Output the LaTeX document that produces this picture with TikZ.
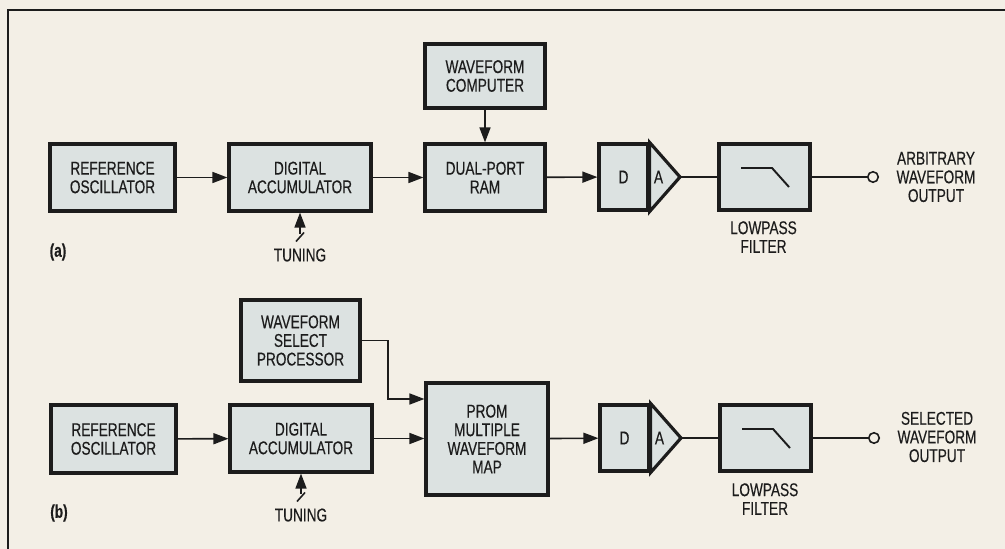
\documentclass[tikz,border=0pt]{standalone}
\usepackage{fontspec}
\setmainfont[FakeStretch=0.74, FakeBold=0.35]{Liberation Sans}
\usetikzlibrary{arrows.meta, calc}
\definecolor{paper}{HTML}{F3EFE6}
\definecolor{boxfill}{HTML}{DCE2E1}
\definecolor{ink}{HTML}{1C1C1C}
\tikzset{
  blk/.style={draw=ink, line width=1.8pt, fill=boxfill, align=center,
    inner sep=0pt, font=\fontsize{10.5}{10.6}\selectfont, text=ink},
  lbl/.style={align=center, inner sep=0pt, font=\fontsize{10.5}{10.6}\selectfont, text=ink},
  wire/.style={draw=ink, line width=0.9pt},
  sig/.style={wire, -{Triangle[length=3mm,width=2.2mm]}},
  outpt/.style={circle, draw=ink, line width=0.9pt, fill=paper, minimum size=0.21cm, inner sep=0pt}
}

\begin{document}
\begin{tikzpicture}[>=latex]
  \useasboundingbox[fill=paper] (0,0) rectangle (20.1,-10.98);
  % Frame
  \draw[ink, line width=0.8pt] (20.1,-0.2) -- (0.16,-0.2) -- (0.16,-10.98);

  % ---------- (a) ----------
  \node[blk, minimum width=2.5cm, minimum height=1.34cm] (refA) at (2.25,-3.55) {REFERENCE\\OSCILLATOR};
  \node[blk, minimum width=2.84cm, minimum height=1.34cm] (accA) at (6.0,-3.55) {DIGITAL\\ACCUMULATOR};
  \node[blk, minimum width=2.4cm, minimum height=1.28cm] (wcA) at (9.7,-1.52) {WAVEFORM\\COMPUTER};
  \node[blk, minimum width=2.4cm, minimum height=1.34cm] (ramA) at (9.7,-3.55) {DUAL-PORT\\RAM};
  % D/A converter
  \node[blk, minimum width=0.98cm, minimum height=1.32cm] (daA) at (12.47,-3.54) {D};
  \coordinate (daAtip) at (13.6,-3.54);
  \draw[ink, line width=1.8pt, fill=boxfill, line join=miter] (daA.north east) -- (daAtip) -- (daA.south east) -- cycle;
  \node[lbl] (daAa) at (13.17,-3.54) {A};
  % Lowpass filter
  \node[blk, minimum width=1.82cm, minimum height=1.32cm] (filtA) at (15.29,-3.54) {};
  \draw[ink, line width=1.1pt] ($(filtA.center)+(-0.47,0.18)$) -- ++(0.62,0) -- ++(0.34,-0.38);
  \node[lbl] (lpA) at (15.27,-4.74) {LOWPASS\\FILTER};
  % Output
  \node[outpt] (outA) at (17.46,-3.54) {};
  \node[lbl] (arbA) at (18.72,-3.54) {ARBITRARY\\WAVEFORM\\OUTPUT};
  % Tuning input
  \node[lbl] (tunA) at (6.0,-5.1) {TUNING};
  \node[lbl, font=\bfseries\fontsize{10.5}{10.6}\selectfont] (labA) at (1.16,-5.04) {(a)};
  % Connections
  \draw[sig] (refA) -- (accA);
  \draw[sig] (accA) -- (ramA);
  \draw[sig] (wcA) -- (ramA);
  \draw[sig] (ramA) -- (daA);
  \draw[wire] (daAtip) -- (filtA);
  \draw[wire] (filtA) -- (outA);
  \draw[sig] ([yshift=0.28cm]tunA.north) -- (accA.south);
  \draw[ink, line width=0.9pt] (5.92,-4.83) -- (6.08,-4.65);

  % ---------- (b) ----------
  \node[blk, minimum width=2.38cm, minimum height=1.62cm] (wsB) at (6.01,-6.81) {WAVEFORM\\SELECT\\PROCESSOR};
  \node[blk, minimum width=2.5cm, minimum height=1.36cm] (refB) at (2.27,-8.78) {REFERENCE\\OSCILLATOR};
  \node[blk, minimum width=2.84cm, minimum height=1.34cm] (accB) at (6.02,-8.77) {DIGITAL\\ACCUMULATOR};
  \node[blk, minimum width=2.44cm, minimum height=2.24cm] (promB) at (9.74,-8.78) {PROM\\MULTIPLE\\WAVEFORM\\MAP};
  % D/A converter
  \node[blk, minimum width=0.98cm, minimum height=1.32cm] (daB) at (12.49,-8.76) {D};
  \coordinate (daBtip) at (13.62,-8.76);
  \draw[ink, line width=1.8pt, fill=boxfill, line join=miter] (daB.north east) -- (daBtip) -- (daB.south east) -- cycle;
  \node[lbl] (daBa) at (13.19,-8.76) {A};
  % Lowpass filter
  \node[blk, minimum width=1.82cm, minimum height=1.32cm] (filtB) at (15.31,-8.76) {};
  \draw[ink, line width=1.1pt] ($(filtB.center)+(-0.47,0.18)$) -- ++(0.62,0) -- ++(0.34,-0.38);
  \node[lbl] (lpB) at (15.3,-9.98) {LOWPASS\\FILTER};
  % Output
  \node[outpt] (outB) at (17.48,-8.76) {};
  \node[lbl] (selB) at (18.74,-8.74) {SELECTED\\WAVEFORM\\OUTPUT};
  % Tuning input
  \node[lbl] (tunB) at (6.02,-10.3) {TUNING};
  \node[lbl, font=\bfseries\fontsize{10.5}{10.6}\selectfont] (labB) at (1.18,-10.26) {(b)};
  % Connections
  \draw[sig] (refB) -- (accB);
  \draw[sig] (accB.east) -- (accB.east -| promB.west);
  \draw[sig] (wsB.east) -- ++(0.53,0) |- ([yshift=0.8cm]promB.west);
  \draw[sig] (promB) -- (daB);
  \draw[wire] (daBtip) -- (filtB);
  \draw[wire] (filtB) -- (outB);
  \draw[sig] ([yshift=0.28cm]tunB.north) -- (accB.south);
  \draw[ink, line width=0.9pt] (5.94,-10.03) -- (6.1,-9.85);
\end{tikzpicture}
\end{document}
